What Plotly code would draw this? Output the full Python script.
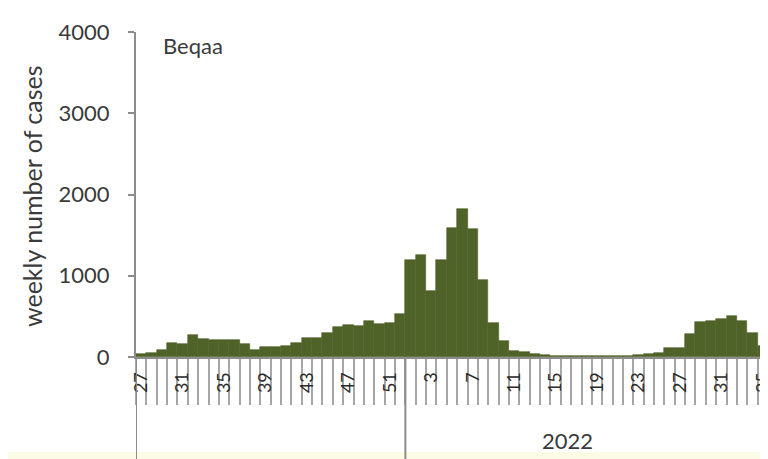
import plotly.graph_objects as go

# Data: weekly number of cases, Beqaa
weeks_2021 = list(range(27, 53))
weeks_2022 = list(range(1, 36))
cases_2021 = [40, 50, 90, 170, 165, 275, 220, 210, 215, 215, 160, 90, 120,
              120, 130, 170, 230, 240, 300, 375, 400, 385, 440, 405, 420, 535]
cases_2022 = [1190, 1250, 810, 1190, 1590, 1825, 1580, 953, 420, 195,
              80, 60, 40, 25, 18, 15, 15, 15, 15, 15, 15, 15, 20, 40,
              45, 115, 115, 280, 430, 440, 470, 500, 440, 300, 140]
year_label = "2022"
region_label = "Beqaa"
y_title = "weekly number of cases"
y_ticks = [0, 1000, 2000, 3000, 4000]

weeks = weeks_2021 + weeks_2022
cases = cases_2021 + cases_2022
idx = list(range(len(weeks)))

# label every 4th week starting at the first one
tickvals = [i for i in idx if i % 4 == 0]
ticktext = [str(weeks[i]) for i in tickvals]

# the page body has an 8px margin, so the figure starts at (8, 8)
OFF = 8
W, H = 768 - OFF, 459 - OFF
ml, mr, mt = 136 - OFF, 0, 32 - OFF
ph = 357 - 32
mb = H - mt - ph
pw = W - ml - mr


def px(xp):
    return (xp - 136) / pw


def py(yp):
    return (357 - yp) / ph


BAR = "#4f6228"
GRID = "#a6a6a6"
AX = "#8c8c8c"
TXT = "#3a3a3a"
FONT = "Lato"

fig = go.Figure(go.Bar(
    x=idx, y=cases,
    marker=dict(color=BAR, line=dict(color=BAR, width=0.6)),
    hoverinfo="skip",
))

fig.update_layout(
    width=W, height=H,
    margin=dict(l=ml, r=mr, t=mt, b=mb, autoexpand=False),
    paper_bgcolor="white", plot_bgcolor="white",
    bargap=0, showlegend=False,
    font=dict(family=FONT, color=TXT),
)

fig.update_xaxes(
    range=[-0.5, len(idx) - 0.5], automargin=False,
    tickmode="array", tickvals=tickvals, ticktext=ticktext,
    tickangle=-90, tickfont=dict(size=18, color="#2a2a2a"),
    ticklabeloverflow="allow",
    ticks="outside", ticklen=6, tickcolor="rgba(0,0,0,0)",
    minor=dict(ticks="outside", ticklen=46, tick0=-0.5, dtick=1,
               tickcolor=GRID, tickwidth=2, showgrid=False),
    showline=True, linecolor=AX, linewidth=2,
    showgrid=False, zeroline=False, fixedrange=True,
)
fig.update_yaxes(
    range=[0, 4000], tickvals=y_ticks, automargin=False,
    tickfont=dict(size=22, color=TXT),
    ticks="outside", ticklen=6, tickcolor=AX, tickwidth=2,
    ticklabelstandoff=14,
    showline=True, linecolor=AX, linewidth=2,
    showgrid=False, zeroline=False,
)

first_2022 = len(weeks_2021)
ext = py(459)
fig.add_shape(type="line", xref="x", yref="paper", x0=-0.5, x1=-0.5,
              y0=0, y1=ext, line=dict(color=AX, width=2))
fig.add_shape(type="line", xref="x", yref="paper",
              x0=first_2022 - 0.5, x1=first_2022 - 0.5,
              y0=0, y1=ext, line=dict(color=AX, width=2))

# faint cream strip at the very bottom of the picture
fig.add_shape(type="rect", xref="paper", yref="paper",
              x0=px(OFF), x1=1, y0=ext, y1=py(452),
              fillcolor="#fcfbe6", line=dict(width=0), layer="below")

fig.add_annotation(xref="paper", yref="paper", x=px(595), y=py(440),
                   text=year_label, showarrow=False,
                   font=dict(size=22, color=TXT), yanchor="middle")
fig.add_annotation(xref="paper", yref="paper", x=px(161),
                   y=py(45), text=region_label, showarrow=False,
                   xanchor="left", yanchor="middle",
                   font=dict(size=22, color=TXT))
fig.add_annotation(xref="paper", yref="paper", x=px(32), y=py(196),
                   text=y_title, textangle=-90, showarrow=False,
                   xanchor="center", yanchor="middle",
                   font=dict(size=25, color=TXT))

fig.write_html("out.html")
